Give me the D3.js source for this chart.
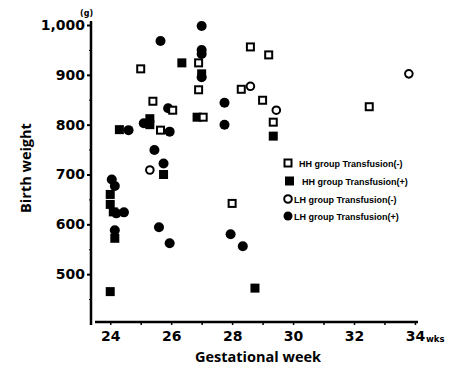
<!DOCTYPE html>
<html>
<head>
<meta charset="utf-8">
<script src="https://cdn.jsdelivr.net/npm/d3@7"></script>
<style>
  body { margin: 0; background: #fff; }
  svg { display: block; }
</style>
</head>
<body>
<div id="chart"></div>
<script>
// [gestational week, birth weight g]
const hhNoTransfusion = [
  [25.0, 912], [25.4, 847], [25.65, 789], [26.05, 829], [26.9, 924], [26.9, 870],
  [27.05, 815], [28.0, 642], [28.3, 871], [28.6, 956], [29.0, 849], [29.2, 940],
  [29.35, 805], [32.5, 836]
];
const hhTransfusion = [
  [24.0, 465], [24.15, 572], [24.0, 640], [24.0, 660], [24.1, 625], [24.3, 790],
  [25.3, 812], [25.3, 800], [25.75, 700], [26.35, 924], [26.85, 815], [27.0, 902],
  [28.75, 472], [29.35, 777]
];
const lhNoTransfusion = [
  [25.3, 709], [28.6, 877], [29.45, 829], [33.8, 902]
];
const lhTransfusion = [
  [24.05, 690], [24.15, 677], [24.2, 622], [24.45, 624], [24.15, 588], [24.6, 789],
  [25.1, 803], [25.45, 749], [25.6, 594], [25.65, 968], [25.75, 722], [25.9, 833],
  [25.95, 786], [25.95, 562], [27.0, 998], [27.0, 950], [27.0, 942], [27.0, 895],
  [27.75, 844], [27.75, 800], [27.95, 580], [28.35, 556]
];
const weekTicks = [24, 25, 26, 27, 28, 29, 30, 31, 32, 33, 34];
const weightTicks = [500, 600, 700, 800, 900, 1000];
const weightMinorTicks = [450, 550, 650, 750, 850, 950];
const legendLabels = [
  "HH group Transfusion(-)", "HH group Transfusion(+)",
  "LH group Transfusion(-)", "LH group Transfusion(+)"
];

const width = 455, height = 368;

const svg = d3.select("#chart").append("svg")
  .attr("width", width)
  .attr("height", height);

const x = d3.scaleLinear().domain([23.5, 34.1]).range([95, 418]);
const y = d3.scaleLinear().domain([400, 1000]).range([324, 25]);

// Ejes
svg.append("g")
  .attr("transform", "translate(91,0)")
  .call(d3.axisLeft(y).tickValues(weightMinorTicks).tickFormat("").tickSize(2))
  .call(g => g.select(".domain").remove());

const yAxis = svg.append("g")
  .attr("transform", "translate(91,0)")
  .call(d3.axisLeft(y).tickValues(weightTicks).tickFormat(d3.format(",")).tickSize(4).tickPadding(2));
yAxis.select(".domain").attr("stroke-width", 2.5).attr("d", "M0,21V325");
yAxis.selectAll(".tick line").attr("stroke-width", 2);
yAxis.selectAll(".tick text")
  .attr("font-family", "DejaVu Sans")
  .attr("font-weight", "bold")
  .attr("font-size", 14)
  .attr("fill", "#000");

const xAxis = svg.append("g")
  .attr("transform", "translate(0,322)")
  .call(d3.axisBottom(x).tickValues(weekTicks).tickFormat(d => d % 2 === 0 ? d : "").tickSize(3).tickPadding(6));
xAxis.select(".domain").attr("stroke-width", 2.5).attr("d", "M95,0H418");
xAxis.selectAll(".tick line").attr("stroke-width", 1.5);
xAxis.selectAll(".tick text")
  .attr("font-family", "DejaVu Sans")
  .attr("font-weight", "bold")
  .attr("font-size", 14)
  .attr("fill", "#000");

svg.append("text")
  .attr("x", 426).attr("y", 342)
  .attr("font-family", "DejaVu Sans").attr("font-weight", "bold").attr("font-size", 8.5)
  .text("wks");

svg.append("text")
  .attr("x", 80).attr("y", 16)
  .attr("font-family", "DejaVu Sans").attr("font-weight", "bold").attr("font-size", 8)
  .text("(g)");

// Títulos
svg.append("text")
  .attr("x", 258).attr("y", 362)
  .attr("text-anchor", "middle")
  .attr("font-family", "Open Sans").attr("font-weight", "bold").attr("font-size", 14.5)
  .text("Gestational week");

svg.append("text")
  .attr("transform", "translate(31,168) rotate(-90)")
  .attr("text-anchor", "middle")
  .attr("font-family", "Open Sans").attr("font-weight", "bold").attr("font-size", 14.5)
  .text("Birth weight");

// Puntos
const plot = svg.append("g");

function squares(data, filled) {
  plot.selectAll(null)
    .data(data)
    .enter().append("rect")
    .attr("x", d => x(d[0]) - (filled ? 4.5 : 3.5))
    .attr("y", d => y(d[1]) - (filled ? 4.5 : 3.5))
    .attr("width", filled ? 9 : 7)
    .attr("height", filled ? 9 : 7)
    .attr("fill", filled ? "#000" : "#fff")
    .attr("stroke", filled ? "none" : "#000")
    .attr("stroke-width", 2);
}

function circles(data, filled) {
  plot.selectAll(null)
    .data(data)
    .enter().append("circle")
    .attr("cx", d => x(d[0]))
    .attr("cy", d => y(d[1]))
    .attr("r", filled ? 5 : 3.8)
    .attr("fill", filled ? "#000" : "#fff")
    .attr("stroke", filled ? "none" : "#000")
    .attr("stroke-width", 2);
}

circles(lhTransfusion, true);
squares(hhTransfusion, true);
squares(hhNoTransfusion, false);
circles(lhNoTransfusion, false);

// Leyenda
const legendY = [163, 181, 199, 216];
const legend = svg.append("g");
legendLabels.forEach((label, i) => {
  const cy = legendY[i];
  if (i === 0) legend.append("rect").attr("x", 284.5).attr("y", cy - 3.5).attr("width", 7).attr("height", 7)
    .attr("fill", "#fff").attr("stroke", "#000").attr("stroke-width", 2);
  if (i === 1) legend.append("rect").attr("x", 285).attr("y", cy - 4.5).attr("width", 9).attr("height", 9);
  if (i === 2) legend.append("circle").attr("cx", 288).attr("cy", cy).attr("r", 3.8)
    .attr("fill", "#fff").attr("stroke", "#000").attr("stroke-width", 2);
  if (i === 3) legend.append("circle").attr("cx", 288).attr("cy", cy).attr("r", 4.5);
  legend.append("text")
    .attr("x", i === 0 ? 299 : i === 1 ? 302 : 294)
    .attr("y", cy + 3.5)
    .attr("font-family", "Liberation Sans").attr("font-weight", "bold").attr("font-size", 9)
    .text(label);
});
</script>
</body>
</html>
